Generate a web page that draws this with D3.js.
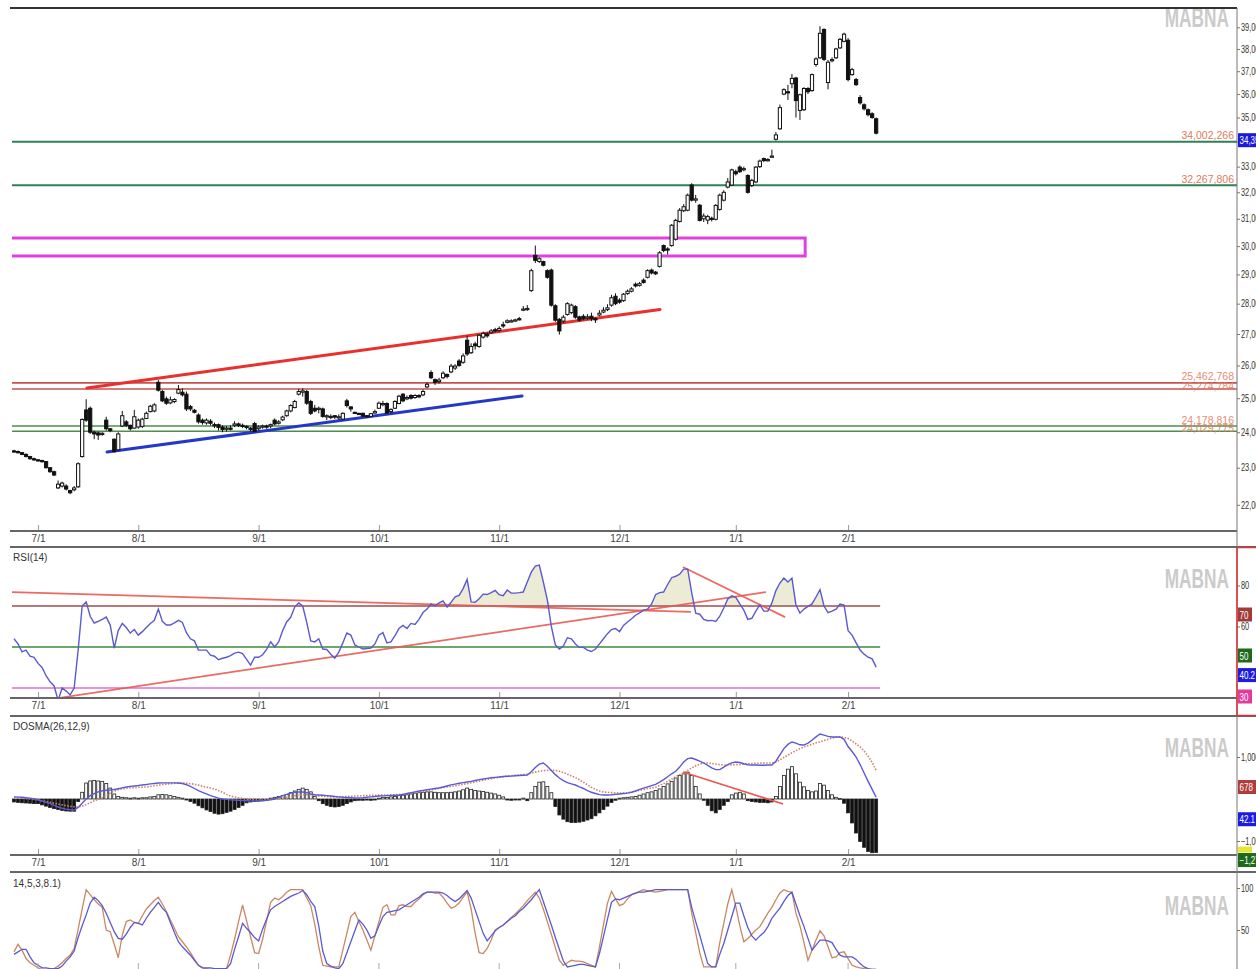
<!DOCTYPE html>
<html><head><meta charset="utf-8">
<script src="https://cdn.jsdelivr.net/npm/d3@7"></script>
<style>body{margin:0;background:#fff;overflow:hidden}svg{display:block;font-family:"Liberation Sans",Arial,sans-serif}</style>
</head><body>
<svg id="chart" width="1256" height="969"></svg>
<script>
// ---------------- DATA ----------------
const tickIdx = [6,31,61,91,121,151,180,208];
const tickLbl = ["7/1","8/1","9/1","10/1","11/1","12/1","1/1","2/1"];
// OHLC in thousand rials
const openK = [23.47,23.45,23.42,23.37,23.31,23.25,23.22,23.20,23.17,23.00,
22.89,22.45,22.50,22.50,22.38,22.40,22.48,23.31,24.65,24.70,
24.00,23.98,23.95,24.35,24.10,23.80,23.50,24.18,24.30,24.20,
24.12,24.15,24.17,24.40,24.60,24.62,25.48,25.20,24.98,24.86,
24.90,25.15,25.18,25.12,24.75,24.64,24.50,24.35,24.27,24.32,
24.22,24.22,24.15,24.10,24.12,24.20,24.24,24.20,24.17,24.12,
24.25,24.10,24.15,24.18,24.18,24.35,24.26,24.36,24.48,24.62,
24.72,25.12,25.18,25.20,24.90,24.70,24.68,24.68,24.45,24.44,
24.48,24.42,24.38,24.92,24.74,24.58,24.55,24.55,24.48,24.46,
24.56,24.70,24.82,24.84,24.60,24.70,24.84,25.12,24.98,25.08,
25.02,25.08,25.10,25.34,25.78,25.56,25.50,25.62,25.72,25.80,
25.92,26.14,26.10,26.80,26.40,26.68,26.60,26.90,27.00,27.04,
27.14,27.12,27.30,27.38,27.42,27.44,27.50,27.80,27.80,28.44,
29.67,29.45,29.45,29.13,29.15,27.93,27.48,27.42,27.64,27.70,
27.90,27.56,27.58,27.52,27.58,27.50,27.62,27.72,27.80,27.95,
28.25,28.12,28.10,28.34,28.42,28.66,28.62,28.80,28.90,29.15,
29.08,29.28,30.02,29.90,30.02,30.25,30.90,31.30,31.32,32.28,
31.70,31.51,31.00,30.95,31.02,30.98,31.35,31.70,32.20,32.28,
32.80,32.98,32.90,32.65,32.26,32.40,33.00,33.32,33.25,33.40,
34.10,34.53,36.00,36.10,36.45,36.70,35.30,35.33,36.24,36.15,
37.30,37.60,38.90,36.50,37.48,37.60,38.05,38.35,38.40,36.85,
36.63,35.85,35.54,35.33,35.16,34.95];
const highK = [23.50,23.48,23.44,23.40,23.33,23.28,23.24,23.22,23.18,23.02,
22.92,22.65,22.62,22.55,22.40,22.50,23.15,24.40,24.97,24.75,
24.05,24.02,24.00,24.45,24.12,23.82,24.00,24.62,24.35,24.22,
24.65,24.40,24.42,24.60,24.80,24.85,25.55,25.25,25.05,25.05,
25.00,25.40,25.30,25.20,24.80,24.68,24.55,24.40,24.40,24.38,
24.28,24.25,24.20,24.18,24.20,24.32,24.28,24.25,24.20,24.15,
24.30,24.20,24.22,24.22,24.25,24.40,24.35,24.48,24.66,24.82,
24.95,25.28,25.30,25.25,24.95,24.80,24.75,24.72,24.52,24.52,
24.50,24.52,24.58,24.98,24.76,24.60,24.57,24.57,24.50,24.56,
24.66,24.90,24.92,24.88,24.70,24.94,25.10,25.15,25.08,25.12,
25.12,25.12,25.26,25.48,25.85,25.60,25.62,25.82,25.75,26.05,
26.04,26.20,26.38,26.95,26.70,26.75,27.00,27.08,27.05,27.16,
27.20,27.25,27.40,27.48,27.48,27.50,27.56,27.92,27.95,29.20,
30.02,29.60,29.48,29.18,29.20,27.98,27.52,27.62,28.05,28.00,
27.95,27.60,27.65,27.65,27.70,27.55,27.78,27.88,27.98,28.30,
28.35,28.18,28.36,28.48,28.56,28.72,28.74,28.86,29.18,29.20,
29.12,29.82,30.06,29.96,30.80,31.00,31.40,31.55,31.95,32.35,
31.90,31.55,31.20,31.15,31.08,31.55,31.95,32.08,32.55,32.92,
32.88,33.05,33.00,32.70,32.52,33.02,33.28,33.36,33.34,33.68,
34.40,35.55,36.25,36.40,36.88,36.75,36.02,36.30,36.30,36.90,
37.62,39.05,38.95,37.50,37.62,38.05,38.50,38.75,38.50,37.15,
36.70,35.95,35.60,35.38,35.22,35.00];
const lowK = [23.42,23.40,23.35,23.29,23.22,23.19,23.17,23.14,22.98,22.86,
22.77,22.42,22.46,22.38,22.28,22.36,22.45,23.28,24.30,23.95,
23.80,23.78,23.90,24.05,24.00,23.42,23.48,24.15,24.15,24.05,
24.10,24.10,24.12,24.38,24.58,24.58,25.20,24.88,24.80,24.82,
24.85,25.12,25.05,24.62,24.62,24.55,24.25,24.22,24.22,24.20,
24.12,24.05,24.00,24.02,24.05,24.15,24.15,24.12,24.08,24.02,
24.00,24.05,24.10,24.10,24.12,24.20,24.22,24.32,24.45,24.58,
24.70,25.08,25.05,24.80,24.50,24.58,24.55,24.42,24.35,24.38,
24.38,24.36,24.35,24.72,24.60,24.55,24.52,24.44,24.42,24.44,
24.54,24.68,24.76,24.52,24.55,24.68,24.82,24.88,24.94,24.96,
24.98,25.00,25.06,25.30,25.58,25.40,25.44,25.58,25.60,25.76,
25.86,25.96,26.05,26.30,26.36,26.50,26.56,26.85,26.88,27.00,
27.05,27.06,27.20,27.35,27.38,27.40,27.44,27.75,27.76,28.40,
29.40,29.40,29.28,28.85,27.90,27.40,26.98,27.35,27.60,27.65,
27.50,27.40,27.45,27.46,27.42,27.36,27.58,27.68,27.75,27.90,
27.95,28.00,28.06,28.30,28.38,28.55,28.58,28.68,28.86,29.00,
28.98,29.24,29.78,29.70,29.98,30.20,30.86,31.25,31.28,31.65,
31.60,30.90,30.88,30.80,30.90,30.94,31.30,31.65,32.15,32.24,
32.65,32.75,32.82,31.95,32.20,32.35,32.95,33.18,33.20,33.35,
34.05,34.49,35.95,35.75,36.25,35.00,34.90,35.28,36.00,36.10,
37.20,37.55,37.45,36.20,37.40,37.55,38.00,38.30,36.55,36.80,
36.35,35.55,35.30,35.05,34.95,34.30];
const closeK = [23.45,23.43,23.37,23.31,23.25,23.22,23.20,23.17,23.00,22.89,
22.80,22.55,22.58,22.42,22.32,22.45,23.11,24.37,24.35,24.00,
23.95,23.92,23.97,24.10,24.05,23.45,23.95,24.48,24.20,24.10,
24.45,24.35,24.38,24.55,24.76,24.80,25.24,24.92,24.85,24.95,
24.96,25.26,25.10,24.68,24.68,24.58,24.30,24.28,24.35,24.26,
24.20,24.14,24.08,24.12,24.10,24.24,24.20,24.17,24.14,24.08,
24.02,24.15,24.18,24.16,24.22,24.24,24.30,24.44,24.62,24.78,
24.90,25.20,25.22,24.85,24.55,24.62,24.70,24.46,24.48,24.46,
24.44,24.45,24.55,24.78,24.68,24.57,24.54,24.47,24.46,24.54,
24.60,24.85,24.84,24.56,24.66,24.90,25.06,24.92,25.02,25.00,
25.08,25.04,25.20,25.42,25.62,25.48,25.55,25.76,25.66,25.98,
25.98,26.00,26.30,26.36,26.60,26.62,26.96,27.02,26.94,27.10,
27.10,27.18,27.26,27.43,27.43,27.46,27.48,27.82,27.84,29.13,
29.49,29.55,29.32,28.90,27.95,27.45,27.10,27.55,28.00,27.95,
27.55,27.45,27.50,27.56,27.50,27.48,27.68,27.78,27.86,28.20,
28.00,28.05,28.32,28.42,28.50,28.60,28.68,28.72,29.13,29.05,
29.02,29.76,29.84,29.86,30.76,30.94,31.32,31.45,31.89,31.70,
31.75,30.94,31.10,31.08,30.98,31.50,31.89,32.00,32.40,32.87,
32.72,32.80,32.92,32.00,32.46,32.98,33.22,33.24,33.28,33.42,
34.28,35.42,36.19,36.08,36.68,35.72,35.97,36.24,36.10,36.85,
37.55,38.72,37.53,37.40,37.52,38.00,38.44,38.68,36.63,37.07,
36.41,35.62,35.37,35.12,35.00,34.35];
const rsi = [54,51.5,47.6,48.5,45.5,45,42,40,36,33,
31,24,30,28.5,26.6,30,48.5,70,72,65,
61.7,62.5,63.5,64.6,60.7,49.5,58,61.5,59.5,56.8,
58.5,55.8,57.5,59.5,61.5,63,68.5,62.5,60.7,60.7,
61.8,63,62,57,54,53,48.5,48.5,48.5,46,
45.5,43.8,44.5,45,45.8,47,47.5,46.8,44,41.2,
45,45,46.2,48.8,52.5,50,52.5,58,62.2,64.5,
69.5,71.5,70,62,53,52.5,54,49,48.8,46.5,
44.6,47.5,52,56.8,55.8,51,50,49,49.3,49.5,
51.5,55.8,57,52,52.5,55.5,59,60.5,59,61.5,
61,63.5,66.8,68.5,71,70,71.5,72.5,69.5,71.8,
74.5,75.2,78.5,83,72,71.8,73.5,75.8,75.6,76.5,
77.6,75.5,75,77.8,76.3,76.3,76.5,76.8,81.7,86.5,
89.5,90,81.7,73,60,51,49,50.5,54.5,54,
51.5,49.8,49.8,48.5,47.8,49,51.5,54,56.5,58.5,
59,57.5,60.5,62.2,63.8,65.5,66.6,68,68.5,71,
75.5,76.5,76.8,80.5,83.8,84.5,85.5,88,88,76.5,
66.5,66,63.5,62.8,63,62.5,65,69,73.4,75,
74.2,71,68,63.5,64,67.5,70.5,67.5,67.5,71.5,
77.5,81.2,83.6,81.7,83.6,70.5,66.5,68.5,69.8,71,
74.4,78,70,66.8,67.5,68.5,71,70.5,58,55.8,
52,48.5,46.5,45,44.2,40.2];
const osmaHist = [-70,-80,-90,-95,-100,-110,-110,-140,-170,-200,
-230,-250,-270,-285,-290,-290,-60,160,380,430,
440,430,420,370,260,120,60,40,30,20,
30,20,30,30,50,60,100,110,100,80,
60,40,20,-20,-60,-100,-160,-210,-260,-300,
-340,-360,-350,-320,-290,-250,-200,-150,-90,-70,
-60,-50,-40,-30,20,40,60,80,110,150,
190,230,260,230,170,60,-40,-110,-150,-180,
-190,-180,-150,-110,-70,-40,-30,-30,-25,-30,
-20,20,40,40,50,60,80,90,100,120,
140,150,160,170,170,160,150,150,150,160,
170,190,220,260,230,200,190,180,160,140,
120,90,50,-20,-30,-20,-10,20,-40,150,
300,400,410,300,150,-180,-380,-480,-540,-560,
-560,-550,-530,-500,-470,-400,-330,-250,-170,-80,
-30,20,30,40,50,60,90,120,150,170,
200,240,300,360,420,500,560,600,640,560,
300,120,-30,-150,-280,-330,-250,-150,-60,100,
140,160,120,-40,-60,-70,-80,-80,-90,-70,
60,300,560,710,770,600,400,290,200,170,
190,370,330,200,100,40,10,-100,-330,-570,
-810,-1010,-1150,-1250,-1280,-1275];
const macdLine = [50,45,40,30,20,0,-20,-50,-80,-110,
-150,-190,-220,-240,-255,-262,-200,-100,0,80,
130,170,195,210,214,225,245,265,285,300,
310,320,335,345,360,370,380,385,385,385,
383,381,370,340,300,250,200,160,120,80,
50,20,0,-10,-20,-25,-30,-35,-40,-45,
-48,-45,-40,-30,-20,0,40,80,110,140,
160,170,167,150,120,100,95,90,80,70,
60,50,40,35,30,25,24,30,40,50,
60,70,75,80,85,90,95,110,130,150,
170,190,205,220,235,250,262,285,310,335,
355,375,390,405,420,440,460,475,490,505,
515,525,535,540,545,555,560,565,571,650,
750,830,857,780,680,580,500,440,390,360,
333,290,250,200,160,130,105,95,95,100,
110,120,130,140,160,190,230,260,290,320,
350,400,460,530,600,660,760,880,960,976,
940,900,857,800,740,700,700,760,820,860,
881,870,840,815,810,810,805,805,808,810,
900,1050,1200,1300,1357,1330,1290,1285,1330,1400,
1480,1547,1520,1490,1476,1476,1476,1420,1250,1130,
1000,820,620,420,230,42];
const signalLine = [40,30,20,10,0,-10,-20,-40,-60,-80,
-100,-120,-140,-160,-175,-185,-190,-170,-130,-90,
-40,-10,30,80,140,190,220,240,255,265,
272,278,283,286,300,315,330,345,355,365,
372,378,381,375,365,350,330,305,280,262,
240,200,160,110,70,48,30,15,0,-10,
-20,-24,-24,-20,-10,0,10,24,40,60,
80,95,100,100,95,85,75,65,55,50,
50,50,55,60,65,70,75,80,85,88,
90,92,93,95,98,102,108,115,125,135,
150,165,180,200,215,235,255,275,286,300,
315,330,350,365,385,405,425,445,465,485,
500,515,530,545,555,565,571,580,595,615,
640,660,675,685,690,680,660,630,590,550,
510,460,400,340,280,230,190,167,160,152,
146,143,143,150,165,185,205,225,250,262,
280,320,370,420,470,530,580,619,680,740,
790,830,857,855,845,830,818,810,810,812,
815,820,830,840,845,850,852,855,857,857,
880,930,990,1047,1100,1150,1200,1240,1270,1300,
1340,1357,1390,1420,1450,1470,1476,1470,1440,1380,
1310,1240,1140,1020,870,678];
const stochK = [24,33,26,16,11,8,5,3,3,3,
4,7,11,16,20,28,51,75,98,92,
86,81,77,50,48,33,17,44,60,62,
59,58,67,75,80,85,89,81,72,62,
52,42,36,30,23,15,8,5,4,3,
3,3,3,4,20,39,60,80,61,42,
23,22,39,61,83,88,86,90,95,98,
98,98,98,88,79,57,30,8,7,6,
6,6,26,46,66,71,60,50,38,26,
43,60,77,80,68,68,79,80,78,78,
83,87,92,95,95,94,94,89,82,76,
78,82,89,95,75,46,23,22,28,38,
50,53,56,60,65,69,74,79,85,90,
95,88,75,60,45,29,14,8,11,14,
13,13,12,10,8,6,30,56,82,96,
87,79,81,87,92,94,96,98,97,96,
95,96,97,98,98,98,98,98,98,70,
47,23,6,6,6,6,35,58,81,98,
78,55,36,40,45,50,54,62,70,77,
86,94,98,96,95,70,55,35,14,26,
38,49,43,30,17,18,23,24,16,8,
6,5,4,3,3,3];
const stochD = [21,24,27,27,18,11,8,5,5,4,
4,4,7,13,18,25,41,55,68,82,
89,85,79,70,59,48,40,39,45,53,
59,58,56,64,71,77,83,76,71,59,
47,36,30,25,20,14,8,5,5,5,
4,4,4,4,10,27,42,58,52,47,
41,37,51,63,74,78,81,84,87,90,
92,94,97,92,84,78,55,25,10,7,
5,4,10,23,36,49,62,57,50,40,
43,55,66,71,72,73,74,77,80,83,
86,89,93,95,95,95,95,94,91,87,
84,87,92,97,88,74,60,46,37,43,
49,53,56,60,64,67,72,76,81,86,
92,98,84,70,56,41,27,13,6,7,
8,9,9,8,7,6,22,42,63,83,
87,86,88,90,92,94,95,95,96,97,
98,98,98,98,98,98,98,98,98,77,
60,44,27,10,6,6,21,34,50,66,
82,82,67,53,43,38,43,47,54,64,
70,76,84,91,95,81,67,54,40,26,
32,38,38,37,35,27,20,18,18,18,
15,10,6,4,3,3];
const levelValues = [34002.266,32267.806,25462.768,25274.784,24178.816,24029.775];
const levelLabels = ["34,002,266","32,267,806","25,462,768","25,274,784","24,178,816","24,029,775"];
const zoneLow = 29647, zoneHigh = 30293, zoneEndIdx = 197.3;
// trendlines: [startIdx, startValue, endIdx, endValue]
const priceTrends = [[18.2,25309,161.1,27807],[23.2,23438,126.7,25067]];
const rsiTrends = [[-0.5,76.8,168.8,67.1],[11,25.1,187.5,76.8],[166.8,89,192.3,64.6]];
const osmaTrends = [[166.8,643,191.8,-119]];
const lastPrice = 34350, rsiLast = 40.2, macdLast = 42.1, signalLast = 678, histLast = -1275;

// ---------------- DRAW ----------------
const svg = d3.select("#chart");
const XL = 12, XR = 1237;
const N = closeK.length;
const xs = d3.scaleLinear().domain([0, N-1]).range([14, 876.15]);
const panels = {main:[8,531], rsi:[547,698], osma:[716,855], stoch:[872,990]};
const yMain = d3.scaleLog().domain([22000,39000]).range([504.8,27.3]);
const yRsi = d3.scaleLinear().domain([30,70]).range([688,606]);
const yOsma = d3.scaleLinear().domain([-1000,1000]).range([841,757]);
const yStoch = d3.scaleLinear().domain([0,100]).range([972,888]);
const idx = d3.range(N);
const SX = 0.74; // horizontal condensing of axis label text

const defs = svg.append("defs");
Object.entries(panels).forEach(([k,[t,b]])=>{
  defs.append("clipPath").attr("id","clip-"+k).append("rect")
    .attr("x",XL).attr("y",t).attr("width",XR-XL).attr("height",b-t);
});
function layer(k){ return svg.append("g").attr("clip-path","url(#clip-"+k+")"); }

// watermarks (condensed bold)
[27,588,757,915].forEach(b=>{
  svg.append("text").attr("transform",`translate(1229,${b}) scale(0.64,1)`).attr("text-anchor","end")
   .attr("font-size",27).attr("font-weight","bold").attr("fill","#cbcbcb").text("MABNA");
});

// ---- MAIN PANEL ----
const gm = layer("main");
const lvlColors = ["#2f7f57","#2f7f57","#c9504e","#c9504e","#4e8e4e","#4e8e4e"];
levelValues.forEach((v,i)=>{
  gm.append("line").attr("x1",XL).attr("x2",XR).attr("y1",yMain(v)).attr("y2",yMain(v))
    .attr("stroke",lvlColors[i]).attr("stroke-width",i<2?2:1.6);
});
gm.append("rect").attr("x",XL-2).attr("y",yMain(zoneHigh)).attr("width",xs(zoneEndIdx)-XL+2)
  .attr("height",yMain(zoneLow)-yMain(zoneHigh)).attr("fill","none")
  .attr("stroke","#e040e0").attr("stroke-width",3);
const trendCol = ["#e8302c","#2437c8"];
priceTrends.forEach((t,i)=>{
  gm.append("line").attr("x1",xs(t[0])).attr("y1",yMain(t[1])).attr("x2",xs(t[2])).attr("y2",yMain(t[3]))
    .attr("stroke",trendCol[i]).attr("stroke-width",3).attr("stroke-linecap","round");
});
const cg = gm.append("g");
idx.forEach(i=>{
  const o=openK[i]*1000,h=highK[i]*1000,l=lowK[i]*1000,c=closeK[i]*1000;
  const xc=xs(i), up=c>=o;
  cg.append("line").attr("x1",xc).attr("x2",xc).attr("y1",yMain(h)).attr("y2",yMain(l))
    .attr("stroke","#111").attr("stroke-width",1);
  const y1=yMain(Math.max(o,c)), y2=yMain(Math.min(o,c));
  cg.append("rect").attr("x",xc-1.6).attr("y",y1).attr("width",3.2).attr("height",Math.max(1.2,y2-y1))
    .attr("fill",up?"#fff":"#111").attr("stroke","#111").attr("stroke-width",1);
});
levelValues.forEach((v,i)=>{
  svg.append("text").attr("x",1234).attr("y",yMain(v)-(i%2===1&&i>1?-1:2.5)).attr("text-anchor","end")
    .attr("font-size",10.5).attr("fill","#e27a5c").attr("opacity",i>1?0.85:1).text(levelLabels[i]);
});

// ---- RSI PANEL ----
const gr = layer("rsi");
const rsiArea = d3.area().x((d,i)=>xs(i)).y0(yRsi(70)).y1(d=>yRsi(Math.max(d,70)));
gr.append("path").datum(rsi).attr("d",rsiArea).attr("fill","#ecebd6");
[[70,"#a04c4c"],[50,"#3d8a3d"],[30,"#e070d0"]].forEach(([v,c])=>{
  gr.append("line").attr("x1",XL).attr("x2",xs(N-1)+4).attr("y1",yRsi(v)).attr("y2",yRsi(v))
    .attr("stroke",c).attr("stroke-width",1.6);
});
rsiTrends.forEach(t=>{
  gr.append("line").attr("x1",xs(t[0])).attr("y1",yRsi(t[1])).attr("x2",xs(t[2])).attr("y2",yRsi(t[3]))
    .attr("stroke","#ea5a52").attr("stroke-width",1.8).attr("opacity",0.9);
});
gr.append("path").datum(rsi).attr("d",d3.line().x((d,i)=>xs(i)).y(d=>yRsi(d)))
  .attr("fill","none").attr("stroke","#5a5ad0").attr("stroke-width",1.4);

// ---- OSMA PANEL ----
const go = layer("osma");
idx.forEach(i=>{
  const v=osmaHist[i], y0=yOsma(0), y1=yOsma(v);
  go.append("rect").attr("x",xs(i)-1.5).attr("width",3)
    .attr("y",Math.min(y0,y1)).attr("height",Math.max(1,Math.abs(y1-y0)))
    .attr("fill",v>=0?"#fafafa":"#111").attr("stroke","#222").attr("stroke-width",0.8);
});
go.append("path").datum(signalLine).attr("d",d3.line().x((d,i)=>xs(i)).y(d=>yOsma(d)))
  .attr("fill","none").attr("stroke","#d0806c").attr("stroke-width",1.6).attr("stroke-dasharray","1.5,1.5");
go.append("path").datum(macdLine).attr("d",d3.line().x((d,i)=>xs(i)).y(d=>yOsma(d)))
  .attr("fill","none").attr("stroke","#5a5ad6").attr("stroke-width",1.4);
osmaTrends.forEach(t=>{
  go.append("line").attr("x1",xs(t[0])).attr("y1",yOsma(t[1])).attr("x2",xs(t[2])).attr("y2",yOsma(t[3]))
    .attr("stroke","#ea5a52").attr("stroke-width",1.8);
});

// ---- STOCH PANEL ----
const gs = layer("stoch");
gs.append("path").datum(stochK).attr("d",d3.line().x((d,i)=>xs(i)).y(d=>yStoch(d)))
  .attr("fill","none").attr("stroke","#c98862").attr("stroke-width",1.3);
gs.append("path").datum(stochD).attr("d",d3.line().x((d,i)=>xs(i)).y(d=>yStoch(d)))
  .attr("fill","none").attr("stroke","#5a5ad0").attr("stroke-width",1.3);

// ---- FRAME LINES & DATE AXES ----
function hline(y,x2,w,c){ svg.append("line").attr("x1",XL-2).attr("x2",x2).attr("y1",y).attr("y2",y)
  .attr("stroke",c||"#555").attr("stroke-width",w||2); }
hline(8,XR,2,"#333");
function dateAxis(yLine){
  const ax = d3.axisBottom(xs).tickValues(tickIdx).tickFormat((d,i)=>tickLbl[i])
    .tickSizeInner(-6).tickSizeOuter(0).tickPadding(4);
  const g = svg.append("g").attr("transform",`translate(0,${yLine})`).call(ax);
  g.select(".domain").remove();
  g.selectAll(".tick line").attr("stroke","#999");
  g.selectAll("text").attr("font-size",10).attr("fill","#444").attr("font-family","Liberation Sans, Arial, sans-serif");
  hline(yLine,XR,2,"#666");
}
dateAxis(531); hline(547,1256,2,"#666");
dateAxis(698); hline(716,1256,2,"#666");
dateAxis(855); hline(872,1256,2,"#666");
tickIdx.forEach(t=>svg.append("line").attr("x1",xs(t)).attr("x2",xs(t)).attr("y1",963).attr("y2",969).attr("stroke","#aaa"));

[["RSI(14)",558],["DOSMA(26,12,9)",727],["14,5,3,8.1)",884]].forEach(([t,y])=>{
  svg.append("text").attr("x",13).attr("y",y+3).attr("font-size",10).attr("fill","#333").text(t);
});

// ---- RIGHT AXES ----
svg.append("line").attr("x1",XR).attr("x2",XR).attr("y1",8).attr("y2",969).attr("stroke","#777").attr("stroke-width",1);
function rightAxis(scale, vals, fmt){
  const g = svg.append("g").attr("transform",`translate(${XR},0)`)
    .call(d3.axisRight(scale).tickValues(vals).tickFormat(fmt).tickSize(3).tickPadding(2));
  g.select(".domain").remove();
  g.selectAll(".tick line").attr("stroke","#777");
  g.selectAll("text").attr("font-size",10).attr("fill","#333")
    .attr("x",4/SX).attr("transform",`scale(${SX},1)`);
}
rightAxis(yMain, d3.range(22000,40000,1000), d3.format(","));
rightAxis(yRsi, [60,80], d3.format("d"));
rightAxis(yOsma, [1000,-1000], d3.format(","));
rightAxis(yStoch, [50,100], d3.format("d"));

function vbox(top, w, fill, txt, tc){
  svg.append("rect").attr("x",XR+1).attr("y",top).attr("width",w).attr("height",14).attr("fill",fill);
  svg.append("text").attr("transform",`translate(${XR+2.5},${top+11}) scale(${SX+0.06},1)`)
    .attr("font-size",10).attr("fill",tc||"#fff").text(txt);
}
vbox(yMain(lastPrice), 22, "#1a1ad8", d3.format(",")(lastPrice));
vbox(yRsi(70)+1.5, 14, "#a23a3a", "70");
vbox(yRsi(50)+1.5, 14, "#1d6a1d", "50");
vbox(yRsi(rsiLast)+1, 22, "#1c1ce0", String(rsiLast));
vbox(yRsi(30)+1.5, 14, "#e03c9e", "30");
vbox(yOsma(signalLast)+9.5, 22, "#b03c3c", String(signalLast));
vbox(yOsma(macdLast)+15, 22, "#1c1ce0", String(macdLast));
svg.append("rect").attr("x",XR+1).attr("y",yOsma(histLast)-6).attr("width",14).attr("height",6).attr("fill","#e6e635");
vbox(yOsma(histLast)+0.5, 22, "#1d6a1d", d3.format(",")(histLast));
svg.append("rect").attr("x",XR).attr("y",547.5).attr("width",30).attr("height",168).attr("fill","none")
  .attr("stroke","#e03030").attr("stroke-width",1.5);
</script>
</body></html>
